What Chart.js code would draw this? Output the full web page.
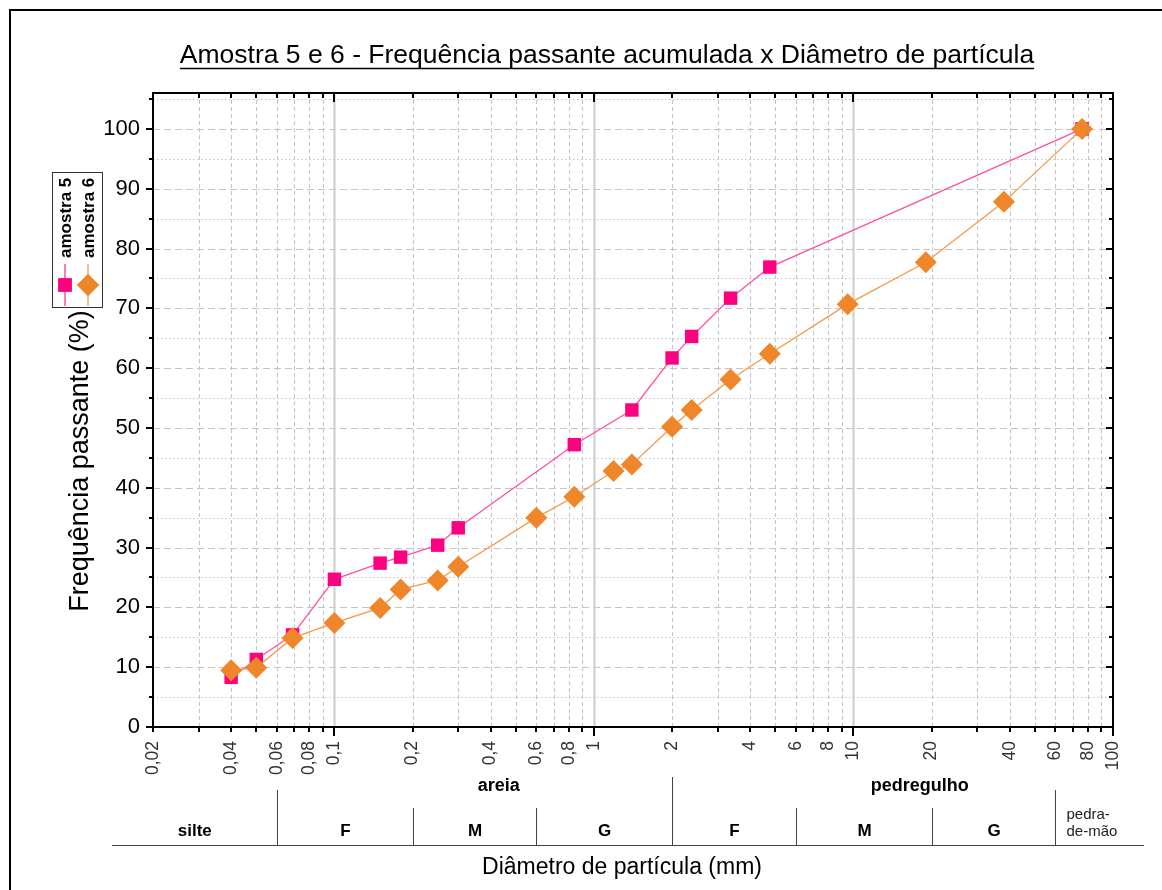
<!DOCTYPE html>
<html>
<head>
<meta charset="utf-8">
<script src="https://cdn.jsdelivr.net/npm/chart.js@4.4.1/dist/chart.umd.min.js"></script>
<style>
  html, body { margin: 0; padding: 0; background: #fff; }
  canvas { display: block; }
</style>
</head>
<body>
<canvas id="graf" width="1162" height="890"></canvas>
<script>
// dados (diametro em mm, % passante)
const diamAmostra5 = [0.04, 0.05, 0.069, 0.1, 0.15, 0.18, 0.25, 0.3, 0.84, 1.4, 2.0, 2.38, 3.36, 4.76, 76]
const passAmostra5 = [8.3, 11.3, 15.4, 24.7, 27.4, 28.4, 30.4, 33.3, 47.2, 53.0, 61.7, 65.3, 71.7, 76.9, 100]
const diamAmostra6 = [0.04, 0.05, 0.069, 0.1, 0.15, 0.18, 0.25, 0.3, 0.6, 0.84, 1.19, 1.4, 2.0, 2.38, 3.36, 4.76, 9.5, 19, 38, 76]
const passAmostra6 = [9.5, 9.9, 14.9, 17.4, 19.9, 23.0, 24.5, 26.8, 35.0, 38.5, 42.8, 43.9, 50.2, 53.0, 58.1, 62.4, 70.7, 77.7, 87.8, 100]

const xTickLabels = [0.02, 0.04, 0.06, 0.08, 0.1, 0.2, 0.4, 0.6, 0.8, 1, 2, 4, 6, 8, 10, 20, 40, 60, 80, 100]
const yTickLabels = [0, 10, 20, 30, 40, 50, 60, 70, 80, 90, 100]

// classificacao granulometrica
const classLimits = [0.06, 0.2, 0.6, 2, 6, 20, 60]
const classNames = ['silte', 'F', 'M', 'G', 'F', 'M', 'G']
const groupNames = ['areia', 'pedregulho']
const groupCenters = [0.43, 18]

const FONT = '"Liberation Sans", Arial, Helvetica, sans-serif'
const pink = '#ff0080'
const orange = '#f0862a'

// posicoes de tick log (1..9 x 10^n)
const logTicks = []
for (let e = -2; e <= 1; e++) {
    for (let m = 1; m <= 9; m++) {
        const v = +(m * Math.pow(10, e)).toPrecision(3)
        if (v >= 0.02) logTicks.push({ v: v, major: m === 1 })
    }
}
logTicks.push({ v: 100, major: true })

const fmt = (v) => String(v).replace('.', ',')

const decoPlugin = {
    id: 'deco',
    beforeDraw(chart) {
        const c = chart.ctx
        const xs = chart.scales.x
        const area = chart.chartArea
        c.save()
        c.fillStyle = '#fff'
        c.fillRect(0, 0, chart.width, chart.height)

        // moldura
        c.strokeStyle = '#000'
        c.lineWidth = 2
        c.beginPath()
        c.moveTo(10, 892)
        c.lineTo(10, 10)
        c.lineTo(1164, 10)
        c.stroke()

        // titulo sublinhado
        c.fillStyle = '#000'
        c.font = '26.5px ' + FONT
        c.textAlign = 'center'
        c.textBaseline = 'alphabetic'
        const title = 'Amostra 5 e 6 - Frequência passante acumulada x Diâmetro de partícula'
        const tw = c.measureText(title).width
        c.fillText(title, 607, 63)
        c.lineWidth = 1.5
        c.beginPath()
        c.moveTo(607 - tw / 2, 68.5)
        c.lineTo(607 + tw / 2, 68.5)
        c.stroke()

        // titulo eixo y
        c.save()
        c.translate(88, 461)
        c.rotate(-Math.PI / 2)
        c.font = '27px ' + FONT
        c.textBaseline = 'alphabetic'
        c.fillText('Frequência passante (%)', 0, 0)
        c.restore()

        // titulo eixo x
        c.font = '23px ' + FONT
        c.textAlign = 'center'
        c.fillText('Diâmetro de partícula (mm)', 622, 874)

        // tabela de classificacao
        const px = classLimits.map(v => Math.round(xs.getPixelForValue(v)) + 0.5)
        const tableLeft = area.left - 41
        const tableRight = area.right + 31
        c.strokeStyle = '#444'
        c.lineWidth = 1
        c.beginPath()
        c.moveTo(tableLeft, 845.5)
        c.lineTo(tableRight, 845.5)
        px.forEach((x, i) => {
            let top = 808
            if (i === 0 || i === 6) top = 790
            if (i === 3) top = 777
            c.moveTo(x, top)
            c.lineTo(x, 845.5)
        })
        c.stroke()

        c.font = 'bold 17px ' + FONT
        c.textAlign = 'center'
        c.textBaseline = 'middle'
        const bounds = [tableLeft].concat(px)
        classNames.forEach((name, i) => {
            c.fillText(name, (bounds[i] + bounds[i + 1]) / 2, 831)
        })
        c.font = 'bold 18px ' + FONT
        groupNames.forEach((name, i) => {
            c.fillText(name, xs.getPixelForValue(groupCenters[i]), 786)
        })
        c.font = '15px ' + FONT
        c.textAlign = 'left'
        c.fillStyle = '#222'
        c.fillText('pedra-', px[6] + 11, 815)
        c.fillText('de-mão', px[6] + 11, 832)

        // legenda (rotacionada)
        c.strokeStyle = '#333'
        c.lineWidth = 1
        c.strokeRect(52.5, 172.5, 50, 135)
        const items = [
            { label: 'amostra 5', color: pink, line: '#ff4fa3', style: 'rect', cx: 65 },
            { label: 'amostra 6', color: orange, line: '#f5aa66', style: 'rectRot', cx: 88 }
        ]
        items.forEach(it => {
            c.save()
            c.translate(it.cx, 258)
            c.rotate(-Math.PI / 2)
            c.fillStyle = '#000'
            c.font = 'bold 17px ' + FONT
            c.textAlign = 'left'
            c.textBaseline = 'middle'
            c.fillText(it.label, 0, 1)
            c.restore()
            c.strokeStyle = it.line
            c.lineWidth = 1.5
            c.beginPath()
            c.moveTo(it.cx, 264)
            c.lineTo(it.cx, 306)
            c.stroke()
            c.fillStyle = it.color
            Chart.helpers.drawPoint(c, { pointStyle: it.style, radius: it.style === 'rect' ? 9.5 : 11, borderWidth: 0 }, it.cx, 285)
            c.fill()
        })
        c.restore()
    },
    beforeDatasetsDraw(chart) {
        const c = chart.ctx
        const { left, right, top, bottom } = chart.chartArea
        const xs = chart.scales.x
        const ys = chart.scales.y
        c.save()
        c.beginPath()
        c.rect(left, top, right - left, bottom - top)
        c.clip()
        c.lineWidth = 1
        // grade horizontal
        for (let v = 5; v <= 105; v += 5) {
            const y = Math.round(ys.getPixelForValue(v)) + 0.5
            c.strokeStyle = '#c4c4c4'
            c.setLineDash(v % 10 === 0 ? [7, 4] : [1.5, 2.5])
            c.beginPath()
            c.moveTo(left, y)
            c.lineTo(right, y)
            c.stroke()
        }
        // grade vertical
        logTicks.forEach(t => {
            const x = Math.round(xs.getPixelForValue(t.v)) + 0.5
            c.beginPath()
            if (t.major) {
                c.setLineDash([])
                c.strokeStyle = '#cdcdcd'
                c.lineWidth = 2
            } else {
                c.setLineDash([4, 3])
                c.strokeStyle = '#c4c4c4'
                c.lineWidth = 1
            }
            c.moveTo(x, top)
            c.lineTo(x, bottom)
            c.stroke()
        })
        c.restore()
    },
    afterDatasetsDraw(chart) {
        const c = chart.ctx
        const { left, right, top, bottom } = chart.chartArea
        const xs = chart.scales.x
        const ys = chart.scales.y
        c.save()
        c.strokeStyle = '#000'
        c.lineWidth = 2
        c.strokeRect(left, top, right - left, bottom - top)
        c.beginPath()
        logTicks.forEach(t => {
            const x = Math.round(xs.getPixelForValue(t.v))
            const len = t.major ? 9 : 5
            c.moveTo(x, bottom)
            c.lineTo(x, bottom + len)
            c.moveTo(x, top)
            c.lineTo(x, top + len)
        })
        for (let v = 0; v <= 105; v += 5) {
            const y = Math.round(ys.getPixelForValue(v))
            const len = v % 10 === 0 ? 7 : 4
            c.moveTo(left, y)
            c.lineTo(left - len, y)
            c.moveTo(right, y)
            c.lineTo(right - len, y)
        }
        c.stroke()
        c.restore()
    }
}

const toPoints = (xs, ys) => xs.map((d, i) => ({ x: d, y: ys[i] }))

new Chart(document.getElementById('graf'), {
    type: 'scatter',
    data: {
        datasets: [{
            label: 'amostra 5',
            data: toPoints(diamAmostra5, passAmostra5),
            showLine: true,
            borderColor: '#ff4fa3',
            borderWidth: 1.3,
            pointStyle: 'rect',
            pointRadius: 9.5,
            pointBackgroundColor: pink,
            pointBorderWidth: 0,
            order: 1
        }, {
            label: 'amostra 6',
            data: toPoints(diamAmostra6, passAmostra6),
            showLine: true,
            borderColor: '#f49a4a',
            borderWidth: 1.3,
            pointStyle: 'rectRot',
            pointRadius: 11,
            pointBackgroundColor: orange,
            pointBorderWidth: 0,
            order: 0
        }]
    },
    options: {
        responsive: false,
        animation: false,
        devicePixelRatio: 1,
        layout: { padding: { left: 103, top: 93, right: 49, bottom: 0 } },
        plugins: {
            legend: { display: false },
            tooltip: { enabled: false }
        },
        scales: {
            x: {
                type: 'logarithmic',
                min: 0.02,
                max: 100,
                grid: { display: false, drawTicks: false },
                border: { display: false },
                afterBuildTicks: (s) => { s.ticks = xTickLabels.map(v => ({ value: v })) },
                afterFit: (s) => { s.height = 163 },
                ticks: {
                    autoSkip: false,
                    minRotation: 90,
                    maxRotation: 90,
                    padding: 14,
                    color: '#333',
                    font: { family: FONT, size: 17.5 },
                    callback: (v) => fmt(v)
                }
            },
            y: {
                min: 0,
                max: 106,
                grid: { display: false, drawTicks: false },
                border: { display: false },
                afterBuildTicks: (s) => { s.ticks = yTickLabels.map(v => ({ value: v })) },
                afterFit: (s) => { s.width = 50 },
                ticks: {
                    padding: 13,
                    color: '#000',
                    font: { family: FONT, size: 22 }
                }
            }
        }
    },
    plugins: [decoPlugin]
})
</script>
</body>
</html>
